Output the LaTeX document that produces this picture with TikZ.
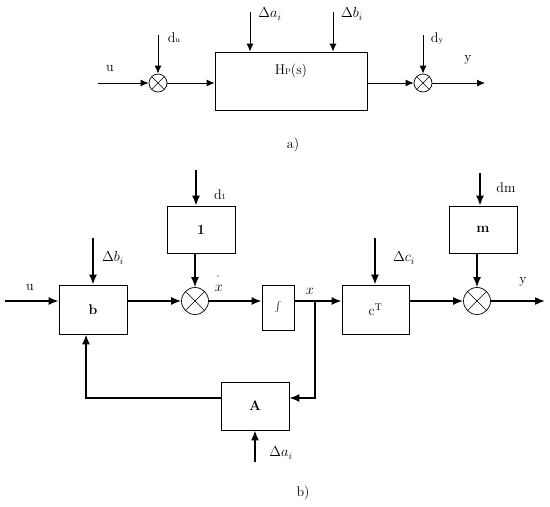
\documentclass[tikz,border=0pt]{standalone}
\usetikzlibrary{arrows.meta}
\tikzset{
  blockbox/.style={draw, line width=0.8pt, inner sep=0pt},
  sumnode/.style={draw, circle, line width=0.7pt, inner sep=0pt, minimum size=#1,
    path picture={
      \draw[line width=0.6pt] (path picture bounding box.north west) -- (path picture bounding box.south east);
      \draw[line width=0.6pt] (path picture bounding box.north east) -- (path picture bounding box.south west);
    }},
  siga/.style={-{Latex[length=8pt,width=7pt]}, line width=0.9pt},
  sigb/.style={-{Latex[length=10pt,width=8pt]}, line width=1.6pt},
  lab/.style={inner sep=1pt},
}
\begin{document}
\begin{tikzpicture}[x=1pt,y=-1pt,font=\fontsize{14}{16}\selectfont]
    \useasboundingbox (0,0) rectangle (550,507);

    % a)
    \node[sumnode=18pt] (sa1) at (158,83) {};
    \node[sumnode=18pt] (sa2) at (423,83) {};
    \node[blockbox, minimum width=152pt, minimum height=58pt,
      label={[anchor=north, yshift=-9pt]north:H{\footnotesize P}(s)}] (hp) at (291,81) {};
    \coordinate (ua) at (98,83);
    \coordinate (ya) at (485,83);
    \coordinate (dua) at (158,35);
    \coordinate (dya) at (423,35);
    \coordinate (daa) at (250,12);
    \coordinate (dba) at (333,12);

    \draw[siga] (ua) -- (sa1);
    \draw[siga] (dua) -- (sa1);
    \draw[siga] (sa1) -- (sa1 -| hp.west);
    \draw[siga] (daa) -- (daa |- hp.north);
    \draw[siga] (dba) -- (dba |- hp.north);
    \draw[siga] (sa2 -| hp.east) -- (sa2);
    \draw[siga] (dya) -- (sa2);
    \draw[siga] (sa2) -- (ya);

    \node[lab] (lua) at (110,68) {u};
    \node[lab] (ldua) at (174,38) {d{\footnotesize u}};
    \node[lab] (ldaa) at (270,14) {$\Delta a_i$};
    \node[lab] (ldba) at (352,14) {$\Delta b_i$};
    \node[lab] (ldya) at (437,38) {d{\footnotesize y}};
    \node[lab] (lya) at (468,60) {y};
    \node[lab] (capa) at (293,145) {a)};

    % b)
    \node[blockbox, minimum width=68pt, minimum height=49pt] (b) at (93,309.5) {\textbf{b}};
    \node[blockbox, minimum width=68pt, minimum height=47pt] (one) at (201,229.5) {\textbf{1}};
    \node[sumnode=27pt] (sb1) at (195,301) {};
    \node[blockbox, minimum width=32pt, minimum height=45pt] (int) at (278,307.5) {\footnotesize$\int$};
    \node[blockbox, minimum width=67pt, minimum height=49pt] (ct) at (375.5,309.5) {c\textsuperscript{T}};
    \node[blockbox, minimum width=68pt, minimum height=47pt] (m) at (483,229.5) {\textbf{m}};
    \node[sumnode=27pt] (sb2) at (477,301) {};
    \node[blockbox, minimum width=68pt, minimum height=48pt] (A) at (255,406) {\textbf{A}};
    \coordinate (ub) at (5,301);
    \coordinate (yb) at (545,301);
    \coordinate (br) at (315,301);
    \coordinate (fba) at (315,398);
    \coordinate (fbb) at (86,398);
    \coordinate (dbb) at (93,238);
    \coordinate (dcb) at (375,238);
    \coordinate (d1b) at (196,170);
    \coordinate (dmb) at (480,173);
    \coordinate (dab) at (255,462);

    \draw[sigb] (ub) -- (ub -| b.west);
    \draw[sigb] (dbb) -- (dbb |- b.north);
    \draw[sigb] (sb1 -| b.east) -- (sb1);
    \draw[sigb] (d1b) -- (d1b |- one.north);
    \draw[sigb] (sb1 |- one.south) -- (sb1);
    \draw[sigb] (sb1) -- (sb1 -| int.west);
    \draw[sigb] (br -| int.east) -- (br -| ct.west);
    \draw[sigb] (dcb) -- (dcb |- ct.north);
    \draw[sigb] (sb2 -| ct.east) -- (sb2);
    \draw[sigb] (dmb) -- (dmb |- m.north);
    \draw[sigb] (sb2 |- m.south) -- (sb2);
    \draw[sigb] (sb2) -- (yb);
    \draw[sigb] (br) -- (fba) -- (fba -| A.east);
    \draw[sigb] (fba -| A.west) -- (fbb) -- (fbb |- b.south);
    \draw[sigb] (dab) -- (A.south);

    \node[lab] (lub) at (30,287) {u};
    \node[lab] (ldbb) at (113,258) {$\Delta b_i$};
    \node[lab] (ld1b) at (220,195) {d{\footnotesize 1}};
    \node[lab] (lxd) at (219,288) {$x$};
    \fill[gray] (218,276) circle (0.8pt);
    \node[lab] (lxb) at (310,291) {$x$};
    \node[lab] (ldcb) at (404,258) {$\Delta c_i$};
    \node[lab] (ldmb) at (506,188) {dm};
    \node[lab] (lyb) at (523,282) {y};
    \node[lab] (ldab) at (281,453) {$\Delta a_i$};
    \node[lab] (capb) at (303,493) {b)};
\end{tikzpicture}
\end{document}
